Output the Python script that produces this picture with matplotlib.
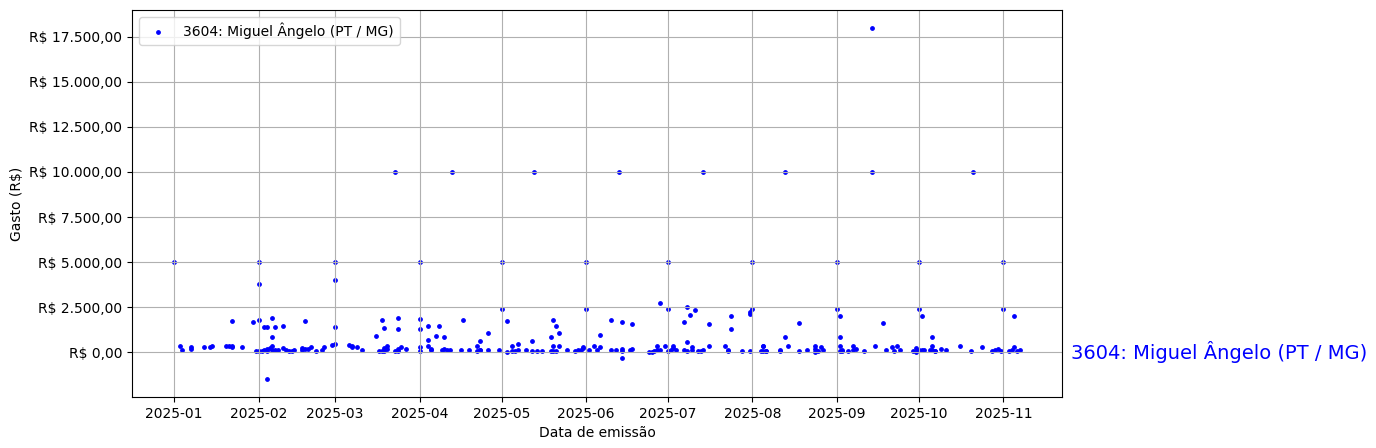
import matplotlib
matplotlib.use("Agg")
import matplotlib.pyplot as plt
import matplotlib.dates as mdates
import matplotlib.ticker as mticker
import pandas as pd

label = "3604: Miguel Ângelo (PT / MG)"

dates = [
    "2025-01-01", "2025-01-03", "2025-01-04", "2025-01-07", "2025-01-07", "2025-01-12",
    "2025-01-14", "2025-01-15", "2025-01-20", "2025-01-21", "2025-01-22", "2025-01-22",
    "2025-01-22", "2025-01-26", "2025-01-30", "2025-01-31",
    "2025-02-01", "2025-02-01", "2025-02-01", "2025-02-01", "2025-02-03", "2025-02-04",
    "2025-02-06", "2025-02-07", "2025-02-10", "2025-02-06", "2025-02-04",
    "2025-02-02", "2025-02-03", "2025-02-04", "2025-02-04", "2025-02-05", "2025-02-06",
    "2025-02-06", "2025-02-07", "2025-02-08", "2025-02-10", "2025-02-11", "2025-02-12",
    "2025-02-13", "2025-02-14", "2025-02-17", "2025-02-17", "2025-02-18", "2025-02-19",
    "2025-02-20", "2025-02-22", "2025-02-24", "2025-02-25", "2025-02-18", "2025-02-28",
    "2025-03-01", "2025-03-01", "2025-03-01", "2025-03-01", "2025-03-06", "2025-03-07",
    "2025-03-07", "2025-03-09", "2025-03-11", "2025-03-16", "2025-03-17", "2025-03-18",
    "2025-03-19", "2025-03-18", "2025-03-19", "2025-03-19", "2025-03-20", "2025-03-20",
    "2025-03-23", "2025-03-23", "2025-03-24", "2025-03-24", "2025-03-25", "2025-03-24",
    "2025-03-24", "2025-03-27",
    "2025-04-01", "2025-04-01", "2025-04-01", "2025-04-01", "2025-04-01", "2025-04-04",
    "2025-04-04", "2025-04-04", "2025-04-05", "2025-04-05", "2025-04-07", "2025-04-08",
    "2025-04-09", "2025-04-10", "2025-04-10", "2025-04-11", "2025-04-12", "2025-04-13",
    "2025-04-16", "2025-04-17", "2025-04-19", "2025-04-22", "2025-04-22", "2025-04-23",
    "2025-04-23", "2025-04-23", "2025-04-26", "2025-04-26", "2025-04-30",
    "2025-05-01", "2025-05-01", "2025-05-03", "2025-05-03", "2025-05-05", "2025-05-05",
    "2025-05-06", "2025-05-07", "2025-05-07", "2025-05-10", "2025-05-12", "2025-05-12",
    "2025-05-13", "2025-05-14", "2025-05-16", "2025-05-19", "2025-05-19", "2025-05-20",
    "2025-05-20", "2025-05-20", "2025-05-21", "2025-05-21", "2025-05-22", "2025-05-22",
    "2025-05-25", "2025-05-28", "2025-05-29", "2025-05-30", "2025-05-31", "2025-05-31",
    "2025-06-01", "2025-06-01", "2025-06-02", "2025-06-04", "2025-06-05", "2025-06-06",
    "2025-06-06", "2025-06-10", "2025-06-10", "2025-06-12", "2025-06-13", "2025-06-14",
    "2025-06-14", "2025-06-14", "2025-06-14", "2025-06-17", "2025-06-18", "2025-06-18",
    "2025-06-24", "2025-06-25", "2025-06-26", "2025-06-27", "2025-06-27", "2025-06-28",
    "2025-06-28", "2025-06-30",
    "2025-07-01", "2025-07-01", "2025-07-01", "2025-07-02", "2025-07-03", "2025-07-03",
    "2025-07-04", "2025-07-07", "2025-07-07", "2025-07-08", "2025-07-08", "2025-07-08",
    "2025-07-09", "2025-07-11", "2025-07-10", "2025-07-10", "2025-07-12", "2025-07-13",
    "2025-07-14", "2025-07-14", "2025-07-16", "2025-07-16", "2025-07-22", "2025-07-23",
    "2025-07-23", "2025-07-24", "2025-07-24", "2025-07-28", "2025-07-31", "2025-07-31",
    "2025-07-31",
    "2025-08-01", "2025-08-01", "2025-08-04", "2025-08-05", "2025-08-05", "2025-08-05",
    "2025-08-06", "2025-08-06", "2025-08-11", "2025-08-11", "2025-08-13", "2025-08-13",
    "2025-08-14", "2025-08-18", "2025-08-18", "2025-08-21", "2025-08-24", "2025-08-24",
    "2025-08-24", "2025-08-25", "2025-08-26", "2025-08-27",
    "2025-09-01", "2025-09-01", "2025-09-02", "2025-09-02", "2025-09-02", "2025-09-02",
    "2025-09-03", "2025-09-03", "2025-09-05", "2025-09-07", "2025-09-07", "2025-09-08",
    "2025-09-11", "2025-09-14", "2025-09-14", "2025-09-15", "2025-09-18", "2025-09-19",
    "2025-09-21", "2025-09-22", "2025-09-23", "2025-09-24", "2025-09-29", "2025-09-30",
    "2025-09-30",
    "2025-10-01", "2025-10-01", "2025-10-01", "2025-10-02", "2025-10-02", "2025-10-03",
    "2025-10-05", "2025-10-06", "2025-10-06", "2025-10-06", "2025-10-07", "2025-10-07",
    "2025-10-09", "2025-10-11", "2025-10-16", "2025-10-20", "2025-10-21", "2025-10-24",
    "2025-10-28", "2025-10-29", "2025-10-30", "2025-10-31",
    "2025-11-01", "2025-11-01", "2025-11-03", "2025-11-04", "2025-11-05", "2025-11-05",
    "2025-11-06", "2025-11-07",
]

values = [
    5000, 370, 150, 300, 185, 280,
    280, 330, 370, 370, 290, 1760,
    370, 280, 1700, 90,
    5000, 3800, 1815, 55, 1425, 1425,
    1925, 1425, 1480, 830, -1500,
    90, 150, 60, 190, 240, 370,
    150, 150, 150, 240, 150, 90,
    90, 110, 150, 240, 185, 200,
    280, 90, 110, 280, 1760, 390,
    5000, 4000, 1390, 480, 390, 330,
    280, 280, 150, 890, 55, 1780,
    1370, 90, 240, 55, 370, 200,
    90, 10000, 90, 185, 280, 1890,
    1280, 200,
    5000, 1830, 1280, 280, 55, 670,
    370, 1480, 185, 110, 890, 1480,
    150, 830, 200, 150, 150, 10000,
    150, 1780, 150, 370, 90, 110,
    150, 610, 1055, 110, 150,
    5000, 2400, 1720, 40, 370, 90,
    90, 480, 150, 150, 650, 90,
    10000, 90, 90, 830, 55, 1780,
    330, 90, 1480, 90, 1090, 370,
    150, 90, 150, 150, 240, 280,
    5000, 2400, 150, 370, 150, 980,
    280, 1815, 110, 110, 10000, 1665,
    -300, 200, 90, 110, 1590, 200,
    40, 40, 90, 330, 150, 150,
    2750, 370,
    5000, 2400, 55, 150, 370, 240,
    150, 1700, 150, 90, 555, 2540,
    2090, 2330, 280, 150, 90, 90,
    10000, 150, 330, 1590, 370, 150,
    90, 2000, 1280, 90, 90, 2150,
    2240,
    5000, 2400, 90, 330, 370, 90,
    90, 90, 150, 90, 10000, 830,
    330, 1610, 90, 150, 370, 185,
    40, 90, 280, 150,
    5000, 2400, 2000, 830, 370, 90,
    150, 90, 90, 330, 150, 185,
    90, 18000, 10000, 330, 1610, 150,
    280, 55, 370, 150, 55, 240,
    40,
    5000, 2400, 150, 2000, 110, 150,
    150, 370, 830, 150, 90, 55,
    200, 150, 330, 90, 10000, 280,
    90, 150, 185, 90,
    5000, 2400, 90, 150, 280, 2000,
    90, 150,
]

x = pd.to_datetime(dates)

fig = plt.figure(figsize=(13.76, 4.48), dpi=100)
ax = fig.add_axes([0.0959, 0.1138, 0.6759, 0.8639])

ax.scatter(x, values, s=6, color="blue", label=label)

ax.xaxis.set_major_locator(mdates.MonthLocator())
ax.xaxis.set_major_formatter(mdates.DateFormatter("%Y-%m"))
ax.yaxis.set_major_locator(mticker.MultipleLocator(2500))


def brl(v, pos):
    s = f"{v:,.2f}"
    s = s.replace(",", "X").replace(".", ",").replace("X", ".")
    return "R$ " + s


ax.yaxis.set_major_formatter(mticker.FuncFormatter(brl))
ax.grid(True)
ax.set_xlabel("Data de emissão")
ax.set_ylabel("Gasto (R$)")
ax.legend(loc="upper left")

ax.annotate(label, xy=(1.0, 0), xycoords=("axes fraction", "data"),
            xytext=(6.5, 0), textcoords="offset points",
            color="blue", fontsize=14, va="center", ha="left")

fig.savefig("out.png", dpi=100)
